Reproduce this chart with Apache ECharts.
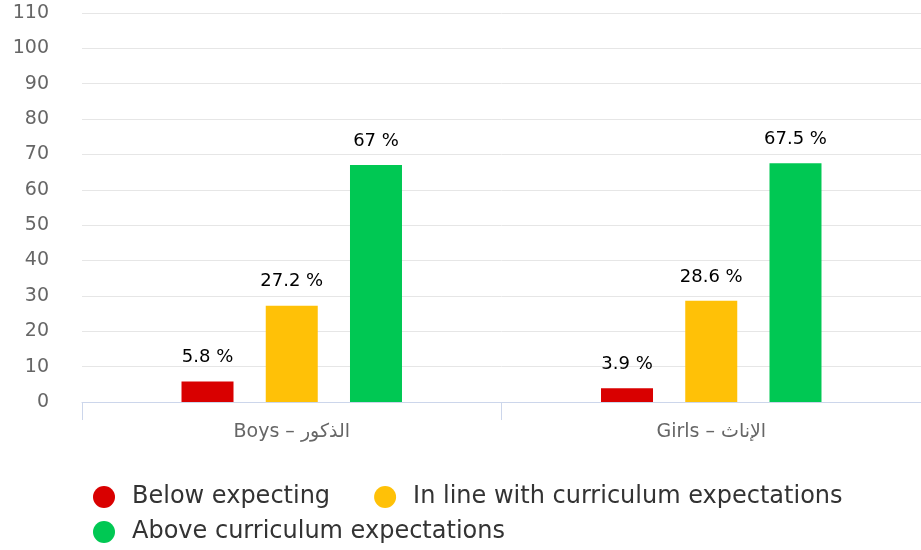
<!DOCTYPE html>
<html>
<head>
<meta charset="utf-8">
<script src="https://cdn.jsdelivr.net/npm/echarts@6/dist/echarts.min.js"></script>
<style>
html, body { margin: 0; padding: 0; background: #fff; }
#chartContainer { width: 921px; height: 550px; }
</style>
</head>
<body>
<div id="chartContainer"></div>
<script>
var categories = ['Boys – الذكور', 'Girls – الإناث'];
var seriesNames = ['Below expecting', 'In line with curriculum expectations', 'Above curriculum expectations'];
var belowValues = [5.8, 3.9];
var inLineValues = [27.2, 28.6];
var aboveValues = [67, 67.5];
var seriesColors = ['#d90000', '#ffc107', '#00c853'];

function Set_Expectations_echarts(){
    var chartContainer = document.getElementById('chartContainer');
    var myChart = echarts.init(chartContainer, null, {
    renderer: 'canvas'
    });

    var dataSets = [belowValues, inLineValues, aboveValues];
    var series = [];
    for (var i = 0; i < seriesNames.length; i++) {
        series.push({
        name: seriesNames[i],
        type: 'bar',
        data: dataSets[i],
        barWidth: 52,
        barGap: '62%',
        itemStyle: {
            color: seriesColors[i]
        },
        label: {
            show: true,
            position: 'top',
            distance: 15,
            color: '#000',
            fontFamily: 'DejaVu Sans',
            fontSize: 18,
            formatter: '{c} %'
        }
        });
    }

    // legend text style, shared by both rows
    var legendText = {
        color: '#333',
        fontFamily: 'DejaVu Sans',
        fontSize: 24,
        padding: [0, 0, 0, 12]
    };

    var option = {
    animation: false,
    textStyle: { fontFamily: 'DejaVu Sans' },
    grid: {
        left: 82,
        right: -4,
        top: 13,
        bottom: 148
    },
    legend: [
    {
        data: [seriesNames[0], seriesNames[1]],
        left: 93,
        top: 485,
        icon: 'circle',
        itemWidth: 22,
        itemHeight: 22,
        itemGap: 44,
        padding: 0,
        textStyle: legendText
    },
    {
        data: [seriesNames[2]],
        left: 93,
        top: 520,
        icon: 'circle',
        itemWidth: 22,
        itemHeight: 22,
        padding: 0,
        textStyle: legendText
    }
    ],
    xAxis: {
        type: 'category',
        data: categories,
        axisLine: { lineStyle: { color: '#ccd6eb', width: 1 } },
        axisTick: { show: true, length: 18, lineStyle: { color: '#ccd6eb' } },
        axisLabel: {
            color: '#666',
            fontSize: 19,
            margin: 21
        }
    },
    yAxis: {
        type: 'value',
        min: 0,
        max: 110,
        interval: 10,
        axisLine: { show: false },
        axisTick: { show: false },
        axisLabel: {
            color: '#666',
            fontSize: 19,
            margin: 33
        },
        splitLine: {
            lineStyle: { color: '#e6e6e6', width: 1 }
        }
    },
    series: series
    };

    myChart.setOption(option);
    window.addEventListener('resize', myChart.resize);
}
Set_Expectations_echarts();
</script>
</body>
</html>
